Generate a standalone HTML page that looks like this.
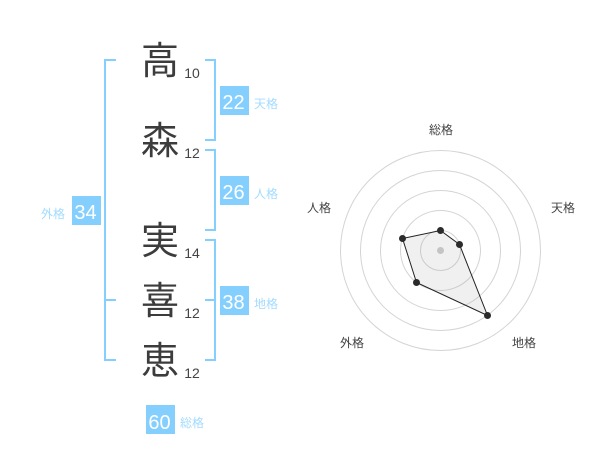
<!DOCTYPE html>
<html lang="ja">
<head>
<meta charset="utf-8">
<style>
html,body{margin:0;padding:0;background:#fff;}
svg{display:block;}
text{font-family:"Liberation Sans","Noto Sans CJK JP",sans-serif;}
.k{font-size:38px;fill:#3c3c3c;text-anchor:middle;}
.n{font-size:14px;fill:#444;text-anchor:middle;}
.b{font-size:20px;fill:#fff;text-anchor:middle;}
.l{font-size:12px;fill:#a3dbff;}
.r{font-size:12px;fill:#444;text-anchor:middle;}
</style>
</head>
<body>
<svg width="600" height="470" viewBox="0 0 600 470" xmlns="http://www.w3.org/2000/svg">
<g fill="none" stroke="#85cfff" stroke-width="2">
<path d="M116 60H105V360H116M105 300H116"/>
<path d="M205 60H215V140H205"/>
<path d="M205 150H215V230H205"/>
<path d="M205 240H215V360H205M205 300H215"/>
</g>
<text class="k" x="160" y="74">高</text>
<text class="k" x="160" y="154">森</text>
<text class="k" x="160" y="254">実</text>
<text class="k" x="160" y="314">喜</text>
<text class="k" x="160" y="374">恵</text>
<text class="n" x="192" y="78">10</text>
<text class="n" x="192" y="158">12</text>
<text class="n" x="192" y="258">14</text>
<text class="n" x="192" y="318">12</text>
<text class="n" x="192" y="378">12</text>
<g fill="#85cfff">
<rect x="72" y="196" width="29" height="29"/>
<rect x="220" y="86" width="29" height="29"/>
<rect x="220" y="176" width="29" height="29"/>
<rect x="220" y="286" width="29" height="29"/>
<rect x="146" y="405" width="29" height="29"/>
</g>
<text class="b" x="85.500" y="219">34</text>
<text class="b" x="233.500" y="109">22</text>
<text class="b" x="233.500" y="199">26</text>
<text class="b" x="233.500" y="309">38</text>
<text class="b" x="159.500" y="429">60</text>
<text class="l" x="41" y="218">外格</text>
<text class="l" x="254" y="108">天格</text>
<text class="l" x="254" y="198">人格</text>
<text class="l" x="254" y="308">地格</text>
<text class="l" x="180" y="427">総格</text>
<g fill="none" stroke="#d4d4d4" stroke-width="1">
<circle cx="440.500" cy="250.500" r="20"/>
<circle cx="440.500" cy="250.500" r="40"/>
<circle cx="440.500" cy="250.500" r="60"/>
<circle cx="440.500" cy="250.500" r="80"/>
<circle cx="440.500" cy="250.500" r="100"/>
</g>
<circle cx="440.500" cy="250.500" r="3.500" fill="#ccc"/>
<polygon points="440.500,230.500 459.500,244.500 487.500,315.500 416.500,282.500 402.500,238.500" fill="#999" fill-opacity="0.15" stroke="#222" stroke-width="1"/>
<g fill="#2b2b2b">
<circle cx="440.500" cy="230.500" r="3.500"/>
<circle cx="459.500" cy="244.500" r="3.500"/>
<circle cx="487.500" cy="315.500" r="3.500"/>
<circle cx="416.500" cy="282.500" r="3.500"/>
<circle cx="402.500" cy="238.500" r="3.500"/>
</g>
<text class="r" x="441" y="134">総格</text>
<text class="r" x="563" y="212">天格</text>
<text class="r" x="319" y="212">人格</text>
<text class="r" x="352" y="347">外格</text>
<text class="r" x="524" y="347">地格</text>
</svg>
</body>
</html>
